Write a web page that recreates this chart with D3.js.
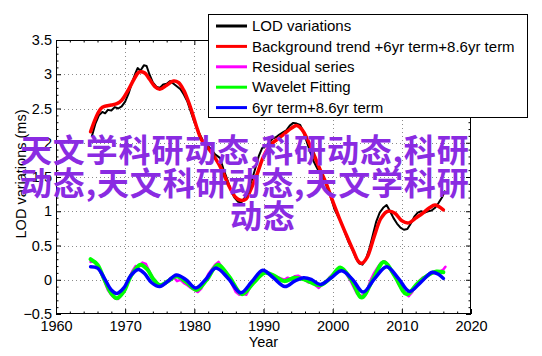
<!DOCTYPE html>
<html><head><meta charset="utf-8">
<script src="https://cdn.jsdelivr.net/npm/d3@7/dist/d3.min.js"></script>
<style>body{margin:0;background:#fff}svg{display:block}</style>
</head><body><svg id="c" width="542" height="356"></svg>
<script>
const xTicks=[1960,1970,1980,1990,2000,2010,2020];
const yTicks=[-0.5,0,0.5,1,1.5,2,2.5,3,3.5];
const xLabel="Year";
const yLabel="LOD variations (ms)";
const legendLabels=["LOD variations","Background trend +6yr term+8.6yr term","Residual series","Wavelet Fitting","6yr term+8.6yr term"];
const seriesColors=["#000000","#ff0000","#ff00ff","#00ff00","#0000ff"];
const overlayLines=["天文学科研动态,科研动态,科研","动态,天文科研动态,天文学科研","动态"];

const lodYears=[1965.2,1965.7,1966.2,1966.7,1967.1,1967.5,1968,1968.5,1969,1969.5,1970,1970.5,1971,1971.5,1971.8,1972.2,1972.7,1973.1,1973.5,1974,1974.5,1975,1975.5,1976,1976.5,1977,1977.5,1978,1978.5,1979,1979.5,1980,1980.5,1981,1981.5,1982,1982.5,1983,1983.7,1984.2,1984.8,1985.3,1985.8,1986.3,1986.8,1987.3,1987.8,1988.3,1988.8,1989.3,1989.8,1990.3,1990.8,1991.3,1991.8,1992.3,1992.8,1993.3,1993.8,1994.3,1994.8,1995.3,1995.8,1996.3,1996.8,1997.3,1997.8,1998.3,1998.8,1999.3,1999.8,2000.3,2000.8,2001.3,2001.8,2002.3,2002.8,2003.3,2003.8,2004.3,2004.8,2005.3,2005.8,2006.3,2006.8,2007.3,2007.8,2008.3,2008.8,2009.3,2009.8,2010.3,2010.8,2011.3,2011.8,2012.3,2012.8,2013.3,2013.8,2014.3,2014.8,2015.3,2015.8,2016.2];
const lodValues=[2.10,2.28,2.40,2.45,2.43,2.48,2.47,2.52,2.50,2.53,2.60,2.72,2.88,3.02,3.09,3.05,3.13,3.12,3.00,2.88,2.82,2.80,2.85,2.86,2.90,2.86,2.82,2.78,2.70,2.60,2.45,2.30,2.18,2.08,1.98,1.95,1.90,1.83,1.78,1.62,1.45,1.30,1.20,1.14,1.13,1.20,1.30,1.45,1.62,1.80,1.92,1.95,2.00,2.06,2.08,2.12,2.15,2.18,2.25,2.29,2.28,2.26,2.15,2.00,1.85,1.72,1.62,1.56,1.45,1.35,1.18,1.02,0.92,0.82,0.68,0.55,0.45,0.33,0.24,0.22,0.30,0.45,0.65,0.85,0.98,1.05,1.09,1.00,0.90,0.82,0.76,0.73,0.74,0.82,0.92,0.98,1.00,0.98,1.00,1.01,1.05,1.12,1.20,1.29];

const trendYears=[1965,1965.5,1966,1966.5,1967,1968,1968.8,1969.5,1970.5,1971.3,1972,1972.8,1973.5,1974.3,1975,1976,1977,1977.7,1978.5,1979,1979.5,1980,1980.5,1981,1982,1983,1984,1985,1986,1986.7,1987.5,1988,1989,1990,1991,1992,1993,1994,1994.8,1995.5,1996.2,1997,1998,1999,2000,2001,2002,2003,2003.7,2004.2,2005,2006,2007,2008,2009,2010,2011,2012,2013,2014,2014.8,2016];
const trendValues=[2.16,2.30,2.42,2.50,2.53,2.55,2.57,2.62,2.78,2.93,3.03,3.02,2.93,2.82,2.78,2.84,2.90,2.88,2.76,2.64,2.50,2.34,2.18,2.05,1.92,1.78,1.60,1.37,1.20,1.16,1.18,1.28,1.52,1.80,1.97,2.05,2.13,2.21,2.25,2.20,2.08,1.90,1.65,1.42,1.15,0.89,0.65,0.42,0.27,0.24,0.33,0.63,0.90,1.00,0.97,0.86,0.83,0.90,0.97,1.05,1.09,1.02];

const residYears=[1965,1965.5,1966,1966.5,1967,1967.5,1968,1968.5,1969,1969.5,1970,1970.5,1971,1971.5,1972,1972.5,1973,1973.5,1974,1974.5,1975,1975.5,1976,1976.5,1977,1977.5,1978,1978.5,1979,1979.5,1980,1980.5,1981,1981.5,1982,1982.5,1983,1983.5,1984,1984.5,1985,1985.5,1986,1986.5,1987,1987.5,1988,1988.5,1989,1989.5,1990,1990.5,1991,1991.5,1992,1992.5,1993,1993.5,1994,1994.5,1995,1995.5,1996,1996.5,1997,1997.5,1998,1998.5,1999,1999.5,2000,2000.5,2001,2001.5,2002,2002.5,2003,2003.5,2004,2004.5,2005,2005.5,2006,2006.5,2007,2007.5,2008,2008.5,2009,2009.5,2010,2010.5,2011,2011.5,2012,2012.5,2013,2013.5,2014,2014.5,2015,2015.5,2016,2016.3];
const residValues=[0.26,0.27,0.20,0.10,-0.02,-0.15,-0.22,-0.27,-0.28,-0.22,-0.12,0.00,0.12,0.20,0.19,0.25,0.23,0.12,0.03,-0.04,-0.08,-0.06,-0.04,0.02,0.04,-0.02,0.00,-0.05,-0.08,-0.12,-0.15,-0.18,-0.13,-0.03,0.08,0.15,0.22,0.26,0.18,0.12,0.02,-0.08,-0.18,-0.22,-0.20,-0.22,-0.12,-0.05,0.05,0.10,0.09,0.12,0.07,0.03,0.04,0.02,0.00,0.03,0.01,0.05,0.06,0.03,0.00,-0.04,-0.03,-0.08,-0.12,-0.07,-0.04,0.03,0.08,0.13,0.17,0.14,0.08,0.00,-0.10,-0.20,-0.24,-0.22,-0.14,0.00,0.10,0.18,0.25,0.27,0.22,0.12,0.05,-0.06,-0.14,-0.20,-0.24,-0.18,-0.08,-0.02,0.03,0.05,0.08,0.10,0.09,0.12,0.15,0.19];

const waveYears=[1965,1966,1967,1968,1968.8,1969.8,1970.8,1972.2,1973.2,1974,1975,1976.2,1977.4,1978.8,1980.3,1981.8,1983.4,1985,1986.9,1988.5,1990.2,1991.5,1993,1994.5,1996,1998.2,1999.8,2001.1,2002.7,2004.2,2005.8,2007.4,2009,2010.7,2012.3,2014,2015,2016];
const waveValues=[0.30,0.22,0.00,-0.20,-0.27,-0.17,0.05,0.22,0.15,0.02,-0.08,-0.02,0.05,-0.03,-0.15,0.00,0.22,0.05,-0.21,-0.05,0.10,0.06,-0.02,0.03,0.00,-0.08,0.04,0.18,0.00,-0.26,0.00,0.26,0.05,-0.21,-0.05,0.08,0.12,0.11];

const termYears=[1965,1966,1967,1968,1968.8,1969.8,1970.8,1971.9,1972.8,1973.8,1975,1976.2,1977.4,1978.8,1980.2,1981.6,1983.1,1984.9,1986.7,1988.3,1989.9,1991.4,1993.1,1994.5,1995.8,1997,1998.2,1999.8,2001.3,2002.9,2004.4,2006.1,2007.8,2009.5,2011.1,2012.8,2014.4,2015.3,2016];
const termValues=[0.19,0.17,0.02,-0.15,-0.20,-0.12,0.06,0.15,0.09,-0.04,-0.10,-0.02,0.07,0.00,-0.12,0.00,0.17,0.02,-0.19,-0.03,0.14,0.03,-0.10,-0.02,0.03,0.00,-0.07,0.03,0.13,0.00,-0.18,0.02,0.19,0.02,-0.17,-0.03,0.11,0.08,0.02];

const W=542,H=356, L=56,R=471,T=40,B=314;
const svg=d3.select("#c");
const x=d3.scaleLinear().domain([1960,2020]).range([L,R]);
const y=d3.scaleLinear().domain([-0.5,3.5]).range([B,T]);
const font="'Liberation Sans', Arial, Helvetica, sans-serif";

// grid
const grid=svg.append("g").attr("stroke","#8c8c8c").attr("stroke-width",1).attr("stroke-dasharray","1,3");
xTicks.slice(1,-1).forEach(v=>grid.append("line").attr("x1",Math.round(x(v))+0.5).attr("x2",Math.round(x(v))+0.5).attr("y1",T).attr("y2",B));
yTicks.slice(1,-1).forEach(v=>grid.append("line").attr("y1",Math.round(y(v))+0.5).attr("y2",Math.round(y(v))+0.5).attr("x1",L).attr("x2",R));

// minor ticks
const minorX=d3.range(1962,2020,2).filter(v=>v%10!==0);
const minorY=d3.range(-0.4,3.5,0.1).map(v=>+v.toFixed(1)).filter(v=>Math.abs(v*2-Math.round(v*2))>1e-6);

function styleAxis(g){g.select(".domain").remove();g.selectAll("line").attr("stroke","#000");g.selectAll("text").attr("font-family",font).attr("font-size","14.5px").attr("fill","#000");}
svg.append("g").attr("transform",`translate(0,${B})`).call(d3.axisBottom(x).tickValues(xTicks).tickFormat(d3.format("d")).tickSizeInner(-5).tickSizeOuter(0).tickPadding(7)).call(styleAxis);
svg.append("g").attr("transform",`translate(0,${T})`).call(d3.axisTop(x).tickValues(xTicks).tickFormat("").tickSizeInner(-5).tickSizeOuter(0)).call(styleAxis);
svg.append("g").attr("transform",`translate(${L},0)`).call(d3.axisLeft(y).tickValues(yTicks).tickFormat(d3.format("")).tickSizeInner(-5).tickSizeOuter(0).tickPadding(4)).call(styleAxis);
svg.append("g").attr("transform",`translate(${R},0)`).call(d3.axisRight(y).tickValues(yTicks).tickFormat("").tickSizeInner(-5).tickSizeOuter(0)).call(styleAxis);
svg.append("g").attr("transform",`translate(0,${B})`).call(d3.axisBottom(x).tickValues(minorX).tickFormat("").tickSizeInner(-2.5).tickSizeOuter(0)).call(styleAxis);
svg.append("g").attr("transform",`translate(0,${T})`).call(d3.axisTop(x).tickValues(minorX).tickFormat("").tickSizeInner(-2.5).tickSizeOuter(0)).call(styleAxis);
svg.append("g").attr("transform",`translate(${L},0)`).call(d3.axisLeft(y).tickValues(minorY).tickFormat("").tickSizeInner(-2.5).tickSizeOuter(0)).call(styleAxis);
svg.append("g").attr("transform",`translate(${R},0)`).call(d3.axisRight(y).tickValues(minorY).tickFormat("").tickSizeInner(-2.5).tickSizeOuter(0)).call(styleAxis);

// series
function draw(xs,vs,color,w,curve){
  const line=d3.line().x(d=>x(d[0])).y(d=>y(d[1])).curve(curve);
  svg.append("path").datum(xs.map((v,i)=>[v,vs[i]])).attr("d",line).attr("fill","none").attr("stroke",color).attr("stroke-width",w).attr("stroke-linejoin","round").attr("stroke-linecap","round");
}
draw(lodYears,lodValues,seriesColors[0],2,d3.curveLinear);
draw(trendYears,trendValues,seriesColors[1],3.5,d3.curveCatmullRom);
draw(residYears,residValues,seriesColors[2],2.5,d3.curveLinear);
draw(waveYears,waveValues,seriesColors[3],4,d3.curveCatmullRom);
draw(termYears,termValues,seriesColors[4],3.5,d3.curveCatmullRom);

// frame
svg.append("rect").attr("x",L+0.5).attr("y",T+0.5).attr("width",R-L-1).attr("height",B-T-1).attr("fill","none").attr("stroke","#000").attr("stroke-width",1);

// labels
svg.append("text").attr("x",(L+R)/2).attr("y",347).attr("text-anchor","middle").attr("font-family",font).attr("font-size","14.5px").text(xLabel);
svg.append("text").attr("transform",`translate(26,${(T+B)/2-3}) rotate(-90)`).attr("text-anchor","middle").attr("font-family",font).attr("font-size","14.5px").text(yLabel);

// legend
const lg=svg.append("g");
lg.append("rect").attr("x",208.5).attr("y",14.5).attr("width",319).attr("height",103).attr("fill","#fff").attr("stroke","#000").attr("stroke-width",1);
legendLabels.forEach((t,i)=>{
  const cy=26+i*20.4;
  lg.append("line").attr("x1",216).attr("x2",247).attr("y1",cy).attr("y2",cy).attr("stroke",seriesColors[i]).attr("stroke-width",3);
  lg.append("text").attr("x",252).attr("y",cy+5.2).attr("font-family",font).attr("font-size","15px").text(t);
});

// overlay
const ov=svg.append("g").attr("font-family","'Noto Sans CJK SC', sans-serif").attr("font-weight","bold").attr("font-size","32px").attr("letter-spacing","0.85px").attr("fill","#8a2be2");
const ovX=[20,20,230], ovY=[162,195,228];
overlayLines.forEach((t,i)=>ov.append("text").attr("x",ovX[i]).attr("y",ovY[i]).text(t));
</script></body></html>
